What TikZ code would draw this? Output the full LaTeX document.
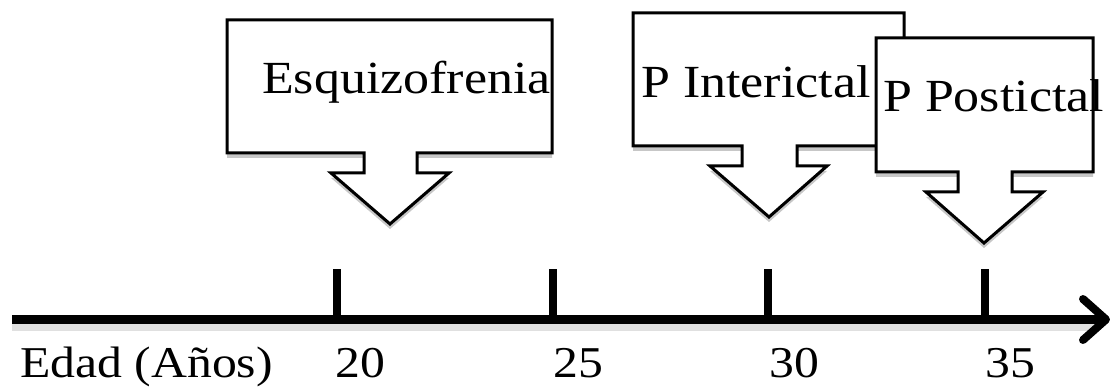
\documentclass[tikz,border=0pt]{standalone}
\usepackage{fontspec}
\setmainfont[FakeStretch=1.13]{Liberation Serif}
\usetikzlibrary{shadows}
\tikzset{
  callout/.style={draw=black, line width=3pt, fill=white, line join=miter,
    drop shadow={shadow xshift=0pt, shadow yshift=-5pt, opacity=.22, fill=black}},
  lbl/.style={anchor=base west, inner sep=0pt, font=\fontsize{46}{50}\selectfont},
  axlbl/.style={anchor=base west, inner sep=0pt, font=\fontsize{44}{50}\selectfont},
  axisline/.style={line width=9pt},
  tickline/.style={line width=8pt},
  chevron/.style={line width=8pt, line cap=round, line join=round},
}
\begin{document}
\begin{tikzpicture}[x=1pt,y=-1pt]
\useasboundingbox (0,0) rectangle (1110,387);
% callout 1
\path[callout] (227,20) -- (552,20) -- (552,153) -- (417,153) -- (417,173) -- (449,173) -- (390,224) -- (331,173) -- (364,173) -- (364,153) -- (227,153) -- cycle;
\node[lbl] (esq) at (262,94) {Esquizofrenia};
% callout 2
\path[callout] (633,13) -- (904,13) -- (904,146) -- (797,146) -- (797,166) -- (827,166) -- (769,217) -- (710,166) -- (742,166) -- (742,146) -- (633,146) -- cycle;
\node[lbl] (inter) at (641,98) {P Interictal};
% callout 3
\path[callout] (876,38) -- (1093,38) -- (1093,172) -- (1012,172) -- (1012,192) -- (1043,192) -- (984,243) -- (926,192) -- (958,192) -- (958,172) -- (876,172) -- cycle;
\node[lbl] (post) at (883,112) {P Postictal};
% axis
\coordinate (a0) at (12,319.5);
\coordinate (a1) at (1104,319.5);
\coordinate (tip) at (1106,319.5);
\coordinate (w1) at (1083,299);
\coordinate (w2) at (1083,340);
\fill[black, opacity=.12] (12,323) rectangle (1100,331);
\draw[axisline] (a0) -- (a1);
\draw[chevron] (w1) -- (tip) -- (w2);
\foreach \n/\x in {t20/337, t25/553, t30/768, t35/985}{
  \coordinate (\n top) at (\x,269);
  \coordinate (\n) at (\x,319);
  \draw[tickline] (\n top) -- (\n);
}
\node[axlbl] (edad) at (20,377) {Edad (Años)};
\node[axlbl] (n20) at (335,377) {20};
\node[axlbl] (n25) at (553,377) {25};
\node[axlbl] (n30) at (769,377) {30};
\node[axlbl] (n35) at (985,377) {35};
\end{tikzpicture}
\end{document}
